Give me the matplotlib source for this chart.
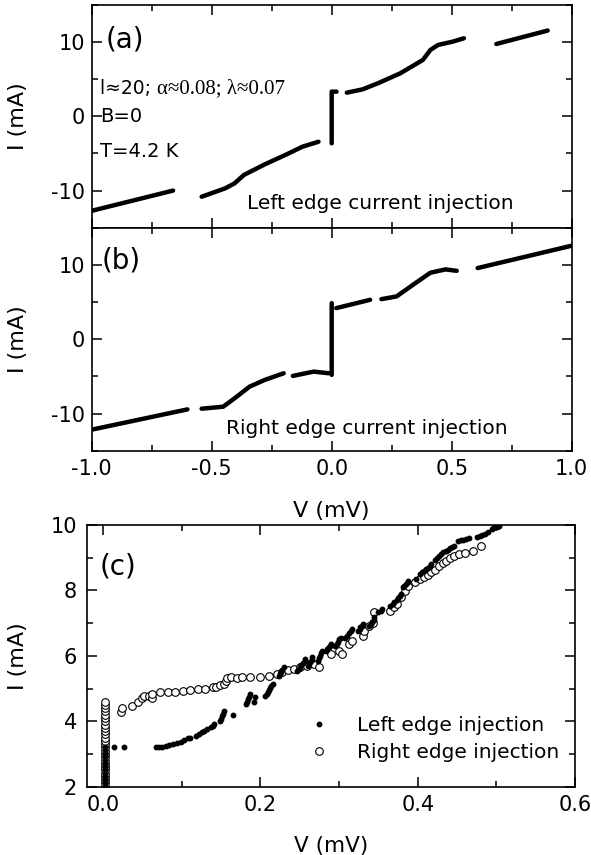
import numpy as np
import matplotlib
matplotlib.use("Agg")
import matplotlib.pyplot as plt
from matplotlib.ticker import MultipleLocator

plt.rcParams['font.family'] = ['DejaVu Sans']
plt.rcParams['axes.unicode_minus'] = False

nan = np.nan

# panel (a): left edge current injection, segments split by nan
va = [-0.997, -0.661, nan,
      -0.542, -0.444, -0.405, -0.366, -0.279, -0.185, -0.122, -0.055, nan,
      0.0, 0.0, 0.02, nan,
      0.063, 0.129, 0.192, 0.286, 0.38, 0.411, 0.443, 0.505, 0.551, nan,
      0.686, 0.9]
ia = [-12.7, -10.0, nan,
      -10.83, -9.7, -9.03, -7.9, -6.47, -5.08, -4.09, -3.42, nan,
      -3.64, 3.33, 3.33, nan,
      3.19, 3.64, 4.45, 5.8, 7.6, 8.94, 9.62, 10.07, 10.52, nan,
      9.75, 11.56]

# panel (b): right edge current injection
vb = [-0.994, -0.601, nan,
      -0.542, -0.452, -0.405, -0.342, -0.279, -0.2, nan,
      -0.162, -0.075, -0.013, nan,
      0.0, 0.0, nan,
      0.019, 0.16, nan,
      0.207, 0.27, 0.349, 0.411, 0.474, 0.521, nan,
      0.608, 1.0]
ib = [-12.13, -9.44, nan,
      -9.35, -9.08, -7.96, -6.38, -5.48, -4.58, nan,
      -4.94, -4.36, -4.58, nan,
      -4.8, 4.85, nan,
      4.18, 5.3, nan,
      5.39, 5.75, 7.55, 8.94, 9.39, 9.2, nan,
      9.57, 12.58]

# panel (c): left edge injection (filled dots)
vl = [0.002] * 13 + [
    0.014, 0.026,
    0.067, 0.071, 0.075, 0.08, 0.084, 0.089, 0.094, 0.099, 0.103, 0.108, 0.11,
    0.118, 0.122,
    0.125, 0.128, 0.132,
    0.137, 0.139, 0.141,
    0.149, 0.15, 0.151, 0.152, 0.153,
    0.165,
    0.182, 0.183, 0.184, 0.186, 0.187,
    0.192, 0.193,
    0.206, 0.208, 0.209, 0.211, 0.212, 0.214, 0.216,
    0.223, 0.225, 0.226, 0.228, 0.23,
    0.247, 0.249, 0.25, 0.252, 0.254, 0.256, 0.257,
    0.261, 0.262, 0.263, 0.265, 0.266,
    0.273, 0.275, 0.276, 0.277, 0.278,
    0.283, 0.285, 0.287, 0.289, 0.29,
    0.295, 0.297, 0.298, 0.3, 0.302,
    0.307, 0.31, 0.312, 0.315, 0.317,
    0.324, 0.326, 0.327, 0.329, 0.331,
    0.338, 0.34, 0.342, 0.344, 0.345,
    0.35, 0.353, 0.355,
    0.365, 0.368, 0.37, 0.373, 0.375, 0.377, 0.379,
    0.381, 0.383, 0.385, 0.387, 0.388,
    0.398,
    0.403, 0.406, 0.408, 0.411, 0.413, 0.415, 0.417,
    0.422, 0.425, 0.427, 0.43, 0.432,
    0.436, 0.439, 0.441, 0.444, 0.446,
    0.451, 0.455, 0.458, 0.462, 0.465,
    0.475, 0.479, 0.482, 0.486, 0.489,
    0.494, 0.496, 0.498, 0.501, 0.503]
il = [2.0, 2.1, 2.2, 2.3, 2.4, 2.5, 2.6, 2.7, 2.8, 2.9, 3.0, 3.1, 3.2] + [
    3.2, 3.2,
    3.2, 3.21, 3.22, 3.24, 3.27, 3.3, 3.33, 3.38, 3.43, 3.48, 3.5,
    3.55, 3.6,
    3.66, 3.71, 3.76,
    3.81, 3.86, 3.91,
    4.0, 4.07, 4.15, 4.22, 4.3,
    4.2,
    4.53, 4.6, 4.68, 4.75, 4.83,
    4.6, 4.75,
    4.78, 4.84, 4.9, 4.96, 5.02, 5.08, 5.14,
    5.39, 5.45, 5.52, 5.58, 5.65,
    5.55, 5.6, 5.66, 5.72, 5.78, 5.84, 5.9,
    5.7, 5.76, 5.82, 5.88, 5.95,
    5.85, 5.93, 6.0, 6.08, 6.16,
    6.16, 6.21, 6.26, 6.31, 6.36,
    6.3, 6.37, 6.43, 6.5, 6.56,
    6.56, 6.62, 6.69, 6.75, 6.82,
    6.77, 6.82, 6.87, 6.92, 6.97,
    6.92, 6.98, 7.05, 7.11, 7.18,
    7.33, 7.38, 7.43,
    7.53, 7.59, 7.65, 7.71, 7.77, 7.83, 7.89,
    8.1, 8.15, 8.2, 8.25, 8.3,
    8.35,
    8.5, 8.55, 8.6, 8.65, 8.7, 8.75, 8.8,
    8.93, 8.99, 9.05, 9.1, 9.16,
    9.2, 9.25, 9.29, 9.33, 9.37,
    9.5, 9.53, 9.55, 9.58, 9.6,
    9.62, 9.66, 9.7, 9.74, 9.78,
    9.88, 9.9, 9.93, 9.95, 9.98]

# panel (c): right edge injection (open circles)
vr = [0.002] * 27 + [
    0.023, 0.024, 0.037, 0.044, 0.049, 0.052, 0.058, 0.062, 0.062, 0.072,
    0.082, 0.091, 0.101, 0.11, 0.12, 0.129, 0.139, 0.144, 0.149, 0.153,
    0.156, 0.158, 0.163, 0.17, 0.177, 0.187, 0.2, 0.211, 0.221, 0.228,
    0.235, 0.242, 0.25, 0.259, 0.268, 0.275, 0.29, 0.3, 0.304, 0.312,
    0.317, 0.33, 0.332, 0.338, 0.343, 0.345, 0.365, 0.37, 0.374, 0.379,
    0.384, 0.388, 0.396, 0.403, 0.408, 0.413, 0.417, 0.422, 0.427, 0.432,
    0.436, 0.441, 0.446, 0.453, 0.46, 0.47, 0.48]
ir = [2.0, 2.1, 2.2, 2.3, 2.4, 2.5, 2.6, 2.7, 2.8, 2.9, 3.0, 3.1, 3.2, 3.3,
      3.4, 3.5, 3.6, 3.7, 3.8, 3.9, 4.0, 4.1, 4.2, 4.3, 4.4, 4.5, 4.6] + [
    4.27, 4.4, 4.47, 4.6, 4.7, 4.78, 4.78, 4.7, 4.83, 4.88,
    4.88, 4.88, 4.93, 4.95, 4.98, 5.0, 5.04, 5.04, 5.1, 5.15,
    5.24, 5.31, 5.34, 5.33, 5.34, 5.34, 5.36, 5.39, 5.44, 5.52,
    5.56, 5.59, 5.65, 5.7, 5.75, 5.65, 6.05, 6.15, 6.05, 6.36,
    6.46, 6.6, 6.77, 6.9, 7.0, 7.33, 7.38, 7.48, 7.58, 7.79,
    7.98, 8.14, 8.25, 8.35, 8.42, 8.48, 8.55, 8.62, 8.75, 8.85,
    8.9, 9.0, 9.05, 9.1, 9.15, 9.22, 9.37]

W, H = 591, 855
fig = plt.figure(figsize=(W / 100, H / 100), dpi=100)

ax_a = fig.add_axes([91.7 / W, 1 - 227.7 / H, 480 / W, 222.7 / H])
ax_b = fig.add_axes([91.7 / W, 1 - 450.7 / H, 480 / W, 223 / H], sharex=ax_a)
ax_c = fig.add_axes([86.7 / W, 1 - 786.7 / H, 488.3 / W, 261.7 / H])


def style(ax, xpad, ypad):
    ax.tick_params(which='both', direction='in', top=True, right=True,
                   labelsize=15, width=1.1)
    ax.tick_params(which='major', length=7)
    ax.tick_params(which='minor', length=4)
    ax.tick_params(axis='x', pad=xpad)
    ax.tick_params(axis='y', pad=ypad)
    for s in ax.spines.values():
        s.set_linewidth(1.2)


for ax in (ax_a, ax_b):
    ax.set_xlim(-1, 1)
    ax.set_ylim(-15, 15)
    ax.xaxis.set_major_locator(MultipleLocator(0.5))
    ax.xaxis.set_minor_locator(MultipleLocator(0.25))
    ax.yaxis.set_major_locator(MultipleLocator(10))
    ax.yaxis.set_minor_locator(MultipleLocator(5))
    ax.set_ylabel('I (mA)', fontsize=16)
    ax.yaxis.set_label_coords(-0.132, 0.5)
    style(ax, 6, 5)

ax_a.tick_params(labelbottom=False)
ax_b.set_xlabel('V (mV)', fontsize=16)
ax_b.xaxis.set_label_coords(0.5, -0.2256)
ax_b.xaxis.set_major_formatter(plt.FuncFormatter(lambda x, p: f'{x:.1f}'))

ax_a.plot(va, ia, color='black', lw=3.2, solid_capstyle='round')
ax_b.plot(vb, ib, color='black', lw=3.2, solid_capstyle='round')

ax_a.text(0.028, 0.843, '(a)', transform=ax_a.transAxes, fontsize=20, va='center')
t = ax_a.text(0.017, 0.599, 'l\u224820; ', transform=ax_a.transAxes,
              fontsize=13.5, va='baseline')
ax_a.annotate('\u03b1\u22480.08; \u03bb\u22480.07', xy=(1, 0), xycoords=t,
              fontsize=15, va='bottom', family='Liberation Serif')
ax_a.text(0.017, 0.498, 'B=0', transform=ax_a.transAxes, fontsize=14, va='center')
ax_a.text(0.017, 0.341, 'T=4.2 K', transform=ax_a.transAxes, fontsize=14, va='center')
ax_a.text(0.324, 0.11, 'Left edge current injection', transform=ax_a.transAxes,
          fontsize=14.5, va='center')

ax_b.text(0.021, 0.855, '(b)', transform=ax_b.transAxes, fontsize=20, va='center')
ax_b.text(0.28, 0.10, 'Right edge current injection', transform=ax_b.transAxes,
          fontsize=14.5, va='center')

# panel (c)
ax_c.set_xlim(-0.021, 0.6)
ax_c.set_ylim(2, 10)
ax_c.xaxis.set_major_locator(MultipleLocator(0.2))
ax_c.xaxis.set_minor_locator(MultipleLocator(0.1))
ax_c.yaxis.set_major_locator(MultipleLocator(2))
ax_c.yaxis.set_minor_locator(MultipleLocator(1))
ax_c.xaxis.set_major_formatter(plt.FuncFormatter(lambda x, p: f'{x:.1f}'))
ax_c.set_xlabel('V (mV)', fontsize=15.5)
ax_c.xaxis.set_label_coords(0.5, -0.19)
ax_c.set_ylabel('I (mA)', fontsize=16)
ax_c.yaxis.set_label_coords(-0.1196, 0.5)
style(ax_c, 6, 7)

ax_c.plot(vl, il, ls='none', marker='o', ms=3.2, color='black',
          label='Left edge injection', zorder=3)
ax_c.plot(vr, ir, ls='none', marker='o', ms=5.5, mfc='white', mec='black',
          mew=0.8, label='Right edge injection', zorder=2)
ax_c.legend(loc='center left', frameon=False, fontsize=14.5,
            handlelength=1.0, handletextpad=1.38, labelspacing=0.42,
            borderpad=0, borderaxespad=0, bbox_to_anchor=(0.4548, 0.182))
ax_c.text(0.027, 0.84, '(c)', transform=ax_c.transAxes, fontsize=20, va='center')

fig.savefig('out.png', dpi=100)
